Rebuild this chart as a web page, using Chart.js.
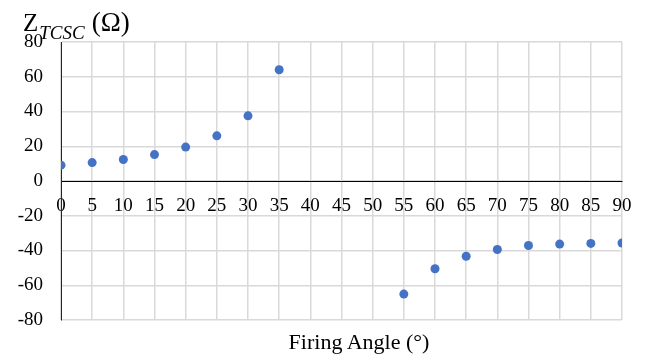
<!DOCTYPE html>
<html>
<head>
<meta charset="utf-8">
<script src="https://cdn.jsdelivr.net/npm/chart.js@4/dist/chart.umd.min.js"></script>
<style>
  html, body { margin: 0; padding: 0; background: #fff; }
  #wrap { position: relative; width: 649px; height: 356px; overflow: hidden; }
  #chart { position: absolute; left: 0; top: 0; }
  .txt { position: absolute; font-family: "Liberation Serif", "Times New Roman", serif; color: #000; white-space: nowrap; }
  #ytitle { left: 23px; top: 5px; font-size: 25px; line-height: 34px; }
  #ytitle .sub { font-style: italic; font-size: 19px; position: relative; top: 8px; margin-left: 1px; }
  #ytitle .unit { font-size: 27px; margin-left: 7px; }
  #xtitle { left: 0; width: 718px; text-align: center; top: 329px; font-size: 22px; line-height: 26px; }
</style>
</head>
<body>
<div id="wrap">
  <canvas id="chart" width="649" height="356"></canvas>
  <div class="txt" id="ytitle">Z<span class="sub">TCSC</span><span class="unit">(Ω)</span></div>
  <div class="txt" id="xtitle">Firing Angle (°)</div>
</div>
<script>
// Firing angle (degrees) and TCSC reactance (ohms)
const firingAngles = [0, 5, 10, 15, 20, 25, 30, 35, 55, 60, 65, 70, 75, 80, 85, 90];
const impedance    = [9.1, 10.6, 12.4, 15.2, 19.5, 26.0, 37.5, 64.0, -65.1, -50.5, -43.3, -39.4, -37.1, -36.3, -35.9, -35.7];
const yTicks = [-80, -60, -40, -20, 0, 20, 40, 60, 80];
const xTicks = [0, 5, 10, 15, 20, 25, 30, 35, 40, 45, 50, 55, 60, 65, 70, 75, 80, 85, 90];

const points = firingAngles.map((a, i) => ({ x: a, y: impedance[i] }));
const tickFont = { family: '"Liberation Serif", "Times New Roman", serif', size: 19 };

new Chart(document.getElementById('chart'), {
  type: 'scatter',
  data: {
    datasets: [{
      data: points,
      backgroundColor: '#4472C4',
      borderColor: '#4472C4',
      pointRadius: 4.5,
      pointHoverRadius: 4.5,
      borderWidth: 0
    }]
  },
  options: {
    responsive: false,
    animation: false,
    devicePixelRatio: 1,
    layout: { padding: { top: 42, right: 27, bottom: 36, left: 0 } },
    plugins: { legend: { display: false }, tooltip: { enabled: false } },
    scales: {
      x: {
        type: 'linear',
        position: { y: 0 },
        min: 0,
        max: 90,
        afterBuildTicks: (s) => { s.ticks = xTicks.map(v => ({ value: v })); },
        grid: { color: '#d9d9d9', lineWidth: 1.5, drawTicks: false },
        border: { display: true, color: '#000', width: 1 },
        ticks: { font: tickFont, color: '#000', padding: 14, autoSkip: false, maxRotation: 0 }
      },
      y: {
        type: 'linear',
        min: -80,
        max: 80,
        afterBuildTicks: (s) => { s.ticks = yTicks.map(v => ({ value: v })); },
        afterFit: (s) => { s.width = 61; },
        grid: { color: '#d9d9d9', lineWidth: 1.5, drawTicks: false },
        border: { display: true, color: '#262626', width: 1 },
        ticks: { font: tickFont, color: '#000', padding: 18 }
      }
    }
  }
});
</script>
</body>
</html>
